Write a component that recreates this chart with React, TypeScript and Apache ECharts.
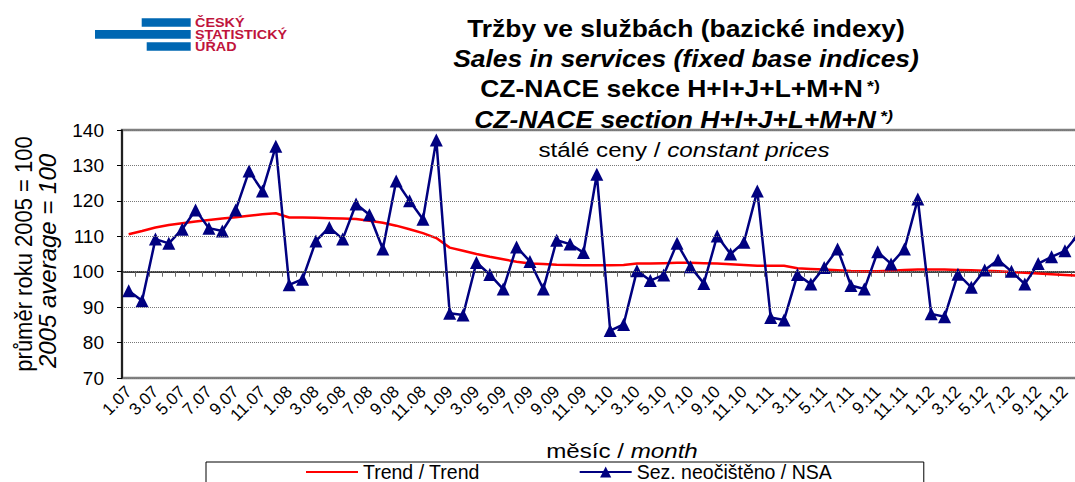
import React, { useEffect, useRef } from "react";
import * as echarts from "echarts";

const years = ["07", "08", "09", "10", "11", "12"];
const months = [1, 2, 3, 4, 5, 6, 7, 8, 9, 10, 11, 12];
const categories = years.flatMap((y) => months.map((m) => `${m}.${y}`));

const trendName = "Trend / Trend";
const nsaName = "Sez. neočištěno / NSA";

const trend = [
  110.6, 111.5, 112.5, 113.2, 113.7, 114.2, 114.6, 115.0, 115.4, 115.8, 116.2, 116.5,
  115.3, 115.3, 115.2, 115.1, 115.0, 114.9, 114.4, 113.8, 113.0, 112.0, 110.9, 109.5,
  106.8, 105.9, 105.0, 104.2, 103.5, 102.8, 102.3, 102.2, 102.0, 101.9, 101.8, 101.8,
  101.8, 101.9, 102.3, 102.3, 102.4, 102.5, 102.5, 102.4, 102.3, 102.1, 101.9, 101.7,
  101.7, 101.7, 101.0, 100.8, 100.6, 100.4, 100.2, 100.1, 100.1, 100.3, 100.5, 100.6,
  100.6, 100.6, 100.5, 100.4, 100.3, 100.1, 99.9, 99.7, 99.5, 99.3, 99.1, 98.9,
];

const nsa = [
  94.6, 91.8, 109.2, 108.0, 112.0, 117.4, 112.3, 111.5, 117.4, 128.4, 122.8, 135.4,
  96.3, 97.9, 108.7, 112.5, 109.2, 119.1, 116.1, 106.4, 125.6, 120.0, 114.8, 137.2,
  88.3, 87.8, 102.6, 99.2, 95.1, 107.0, 102.9, 95.1, 108.9, 107.8, 105.4, 127.5,
  83.4, 85.1, 100.3, 97.5, 99.1, 108.0, 101.4, 96.7, 110.1, 105.0, 108.3, 122.8,
  87.1, 86.4, 99.2, 96.5, 101.2, 106.4, 96.1, 95.1, 105.6, 102.2, 106.4, 120.5,
  88.1, 87.3, 99.3, 95.6, 100.5, 103.3, 100.1, 96.5, 102.3, 104.2, 105.9, 110.5,
];

const yMin = 70;
const yMax = 140;
const yStep = 10;
const baseLevel = 100;

const FONT = "'Liberation Sans', Arial, sans-serif";
const SX = 1.15;

const GRID_LEFT = 122;
const GRID_TOP = 130;
const GRID_W = 963;
const GRID_H = 248;

function txt(x: number, y: number, text: string, size: number, opts: any = {}) {
  return {
    type: "text",
    x,
    y,
    scaleX: opts.scaleX ?? SX,
    scaleY: opts.scaleY ?? 1,
    rotation: opts.rotation ?? 0,
    z: 10,
    style: {
      text,
      fontSize: size,
      fontFamily: FONT,
      fontWeight: opts.weight ?? "normal",
      fontStyle: opts.style ?? "normal",
      fill: opts.fill ?? "#000",
      align: opts.align ?? "center",
      verticalAlign: "middle",
      rich: opts.rich,
    },
  };
}

export default function App() {
  const ref = useRef<HTMLDivElement>(null);
  useEffect(() => {
    const chart = echarts.init(ref.current!, null, { renderer: "svg" });
    const richMix = (size: number) => ({
      n: { fontSize: size, fontFamily: FONT, fontStyle: "normal", fill: "#000", color: "#000" },
      i: { fontSize: size, fontFamily: FONT, fontStyle: "italic", fill: "#000", color: "#000" },
    });
    chart.setOption({
      animation: false,
      backgroundColor: "#fff",
      grid: {
        left: GRID_LEFT,
        top: GRID_TOP,
        width: GRID_W,
        height: GRID_H,
        containLabel: false,
        outerBoundsMode: "none",
      },
      xAxis: [
        {
          type: "category",
          data: categories,
          boundaryGap: true,
          position: "bottom",
          axisLine: { show: false },
          axisTick: { show: false },
          splitLine: { show: false },
          axisLabel: {
            interval: 1,
            rotate: 45,
            margin: 11,
            fontSize: 17,
            fontFamily: FONT,
            color: "#000",
          },
        },
        {
          type: "category",
          data: categories,
          boundaryGap: true,
          position: "bottom",
          offset: -((baseLevel - yMin) / (yMax - yMin)) * GRID_H,
          axisLine: { show: true, lineStyle: { color: "#000", width: 1.5 } },
          axisTick: { show: true, interval: 0, length: 5, lineStyle: { color: "#666", width: 1 } },
          axisLabel: { show: false },
          splitLine: { show: false },
        },
      ],
      yAxis: {
        type: "value",
        min: yMin,
        max: yMax,
        interval: yStep,
        axisLine: { show: true, lineStyle: { color: "#000", width: 1.5 } },
        axisTick: { show: true, length: 5, lineStyle: { color: "#000" } },
        axisLabel: { fontSize: 19, fontFamily: FONT, color: "#000", margin: 18 },
        splitLine: { show: true, lineStyle: { color: "#777", type: "dotted", width: 1 } },
        z: 4,
      },
      legend: {
        left: 206,
        top: 462,
        orient: "horizontal",
        padding: [0, 92, 14, 99],
        itemGap: 99,
        itemWidth: 52,
        itemHeight: 14,
        borderColor: "#000",
        borderWidth: 1,
        selectedMode: false,
        textStyle: { fontSize: 19.5, lineHeight: 17, fontFamily: FONT, color: "#000" },
        data: [{ name: trendName, itemStyle: { opacity: 0 } }, { name: nsaName }],
      },
      series: [
        {
          name: trendName,
          type: "line",
          xAxisIndex: 0,
          data: trend,
          symbol: "none",
          lineStyle: { color: "#ff0000", width: 2.5 },
          itemStyle: { color: "#ff0000" },
          z: 2,
        },
        {
          name: nsaName,
          type: "line",
          xAxisIndex: 0,
          data: nsa,
          symbol: "triangle",
          symbolSize: 13,
          showAllSymbol: true,
          lineStyle: { color: "#000080", width: 2.5 },
          itemStyle: { color: "#000080" },
          z: 3,
        },
      ],
      graphic: [
        {
          type: "rect",
          z: 1,
          silent: true,
          shape: { x: GRID_LEFT, y: GRID_TOP, width: GRID_W, height: GRID_H },
          style: { fill: "none", stroke: "#808080", lineWidth: 2.5 },
        },
        { type: "rect", shape: { x: 141.7, y: 18.3, width: 49, height: 8.4 }, style: { fill: "#0067b2" } },
        { type: "rect", shape: { x: 95, y: 30, width: 95.7, height: 8.7 }, style: { fill: "#0067b2" } },
        { type: "rect", shape: { x: 146.7, y: 42.3, width: 44, height: 8.4 }, style: { fill: "#0067b2" } },
        txt(195, 22.8, "ČESKÝ", 12.5, { weight: "bold", fill: "#c0143c", align: "left" }),
        txt(195, 35, "STATISTICKÝ", 12.5, { weight: "bold", fill: "#c0143c", align: "left" }),
        txt(195, 47, "ÚŘAD", 12.5, { weight: "bold", fill: "#c0143c", align: "left" }),
        txt(686, 29, "Tržby ve službách (bazické indexy)", 23, { weight: "bold" }),
        txt(686, 59, "Sales in services (fixed base indices)", 23, { weight: "bold", style: "italic" }),
        txt(671.5, 89, "CZ-NACE sekce H+I+J+L+M+N", 23, { weight: "bold" }),
        txt(867, 86, "*)", 15.5, { weight: "bold", align: "left" }),
        txt(675, 120, "CZ-NACE section H+I+J+L+M+N", 23, { weight: "bold", style: "italic" }),
        txt(880, 116, "*)", 15.5, { weight: "bold", style: "italic", align: "left" }),
        txt(684, 150, "{n|stálé ceny / }{i|constant prices}", 21, { rich: richMix(21) }),
        txt(622, 451, "{n|měsíc / }{i|month}", 21, { rich: richMix(21) }),
        txt(24, 254, "průměr roku 2005 = 100", 22, { rotation: Math.PI / 2, scaleX: 1, scaleY: 1.05 }),
        txt(47, 261, "2005 average = 100", 24, { rotation: Math.PI / 2, scaleX: 1, scaleY: 1, style: "italic" }),
      ],
    });
    return () => chart.dispose();
  }, []);
  return (
    <div
      ref={ref}
      style={{ position: "absolute", left: 0, top: 0, width: 1075, height: 482, background: "#fff" }}
    />
  );
}
